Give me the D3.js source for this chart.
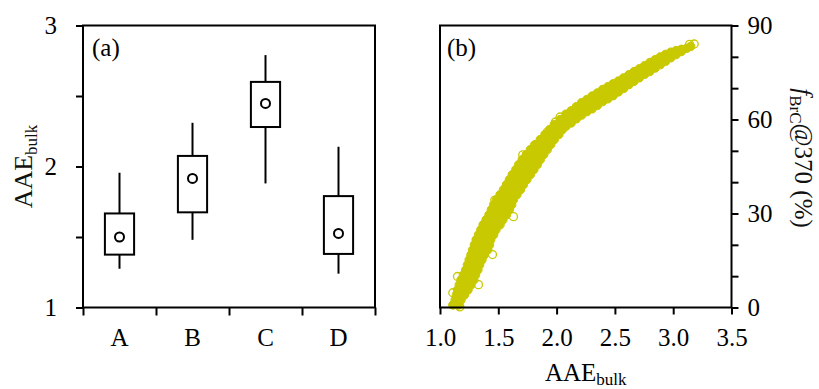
<!DOCTYPE html>
<html>
<head>
<meta charset="utf-8">
<script src="https://cdn.jsdelivr.net/npm/d3@7"></script>
<style>
  body { margin: 0; background: #fff; }
  svg { display: block; font-family: 'Liberation Serif', 'Times New Roman', serif; }
</style>
</head>
<body>
<div id="chart"></div>
<script>
// panel (a): box summary per group
const categories = ['A', 'B', 'C', 'D'];
const whiskerLow = [1.275, 1.48, 1.88, 1.24];
const boxLow = [1.375, 1.675, 2.28, 1.38];
const boxHigh = [1.667, 2.075, 2.60, 1.79];
const whiskerHigh = [1.956, 2.31, 2.79, 2.14];
const boxCenter = [1.50, 1.915, 2.447, 1.525];
const yTicksA = [1, 1.5, 2, 2.5, 3];
const yLabelsA = [1, 2, 3];

// panel (b): AAE_bulk vs f_BrC@370
// dense part, lower section: [fBrC, AAE, AAE, ...]
const steepRows = [
  [0.8, 1.11, 1.16],
  [2.4, 1.13, 1.18],
  [4.0, 1.14, 1.18, 1.21],
  [5.6, 1.15, 1.195, 1.24],
  [7.2, 1.165, 1.21, 1.265],
  [8.8, 1.18, 1.22, 1.255, 1.29],
  [10.4, 1.20, 1.235, 1.27, 1.305],
  [12.0, 1.22, 1.255, 1.29, 1.325],
  [13.6, 1.235, 1.27, 1.305, 1.34],
  [15.2, 1.25, 1.285, 1.325, 1.36],
  [16.8, 1.265, 1.305, 1.34, 1.38],
  [18.4, 1.28, 1.325, 1.37, 1.41],
  [20.0, 1.295, 1.34, 1.38, 1.425],
  [21.6, 1.31, 1.35, 1.395, 1.435],
  [23.2, 1.33, 1.375, 1.415, 1.46],
  [24.8, 1.35, 1.395, 1.44, 1.48],
  [26.4, 1.37, 1.42, 1.465, 1.515],
  [28.0, 1.395, 1.445, 1.49, 1.54],
  [29.6, 1.42, 1.47, 1.52, 1.57],
  [31.2, 1.44, 1.49, 1.545, 1.595],
  [32.8, 1.46, 1.51, 1.565, 1.615],
  [34.4, 1.485, 1.535, 1.58, 1.63],
  [36.0, 1.515, 1.565, 1.61, 1.66],
  [37.6, 1.545, 1.595, 1.64, 1.69],
  [39.2, 1.57, 1.62, 1.665, 1.715],
  [40.8, 1.595, 1.645, 1.695, 1.745],
  [42.4, 1.62, 1.67, 1.725, 1.775],
  [44.0, 1.65, 1.70, 1.755, 1.805],
  [45.6, 1.675, 1.73, 1.78, 1.835],
  [47.2, 1.705, 1.755, 1.81, 1.86],
  [48.8, 1.74, 1.79, 1.84, 1.89],
  [50.4, 1.775, 1.825, 1.87, 1.92],
  [52.0, 1.82, 1.865, 1.91, 1.95],
  [53.6, 1.86, 1.90, 1.94, 1.98],
  [55.2, 1.90, 1.94, 1.98, 2.02],
  [56.8, 1.94, 1.98, 2.015, 2.05],
  [58.4, 1.98, 2.02, 2.06],
  [60.0, 2.03, 2.07]
];
// dense part, upper section: [AAE, fBrC, fBrC, ...]
const flatCols = [
  [2.08, 57.8, 59.1, 60.4, 61.7],
  [2.125, 58.9, 60.2, 61.5, 62.8],
  [2.17, 60.2, 61.5, 62.8, 64.1],
  [2.215, 61.4, 62.7, 64.1, 65.4],
  [2.26, 62.5, 63.8, 65.1, 66.4],
  [2.305, 63.4, 64.8, 66.1, 67.5],
  [2.35, 64.5, 65.8, 67.2, 68.5],
  [2.395, 65.7, 67.0, 68.3, 69.6],
  [2.44, 66.6, 67.9, 69.2, 70.5],
  [2.485, 67.6, 68.9, 70.1, 71.4],
  [2.53, 68.8, 70.0, 71.1, 72.3],
  [2.575, 69.9, 71.0, 72.2, 73.3],
  [2.62, 71.1, 72.2, 73.2, 74.3],
  [2.665, 72.2, 73.2, 74.3, 75.3],
  [2.71, 73.3, 74.8, 76.2],
  [2.755, 74.4, 75.8, 77.2],
  [2.80, 75.3, 76.75, 78.2],
  [2.845, 76.4, 77.75, 79.1],
  [2.89, 77.5, 78.75, 80.0],
  [2.935, 78.6, 79.7, 80.8],
  [2.98, 79.7, 80.6, 81.5],
  [3.025, 80.7, 82.0],
  [3.07, 81.7, 82.4],
  [3.115, 82.7],
  [3.15, 83.3]
];
// scattered points at the edges of the cloud: [AAE, fBrC]
const edgePoints = [
  [1.71, 48.7], [1.81, 51.8], [2.03, 60.8], [1.99, 59.2], [1.92, 56.0],
  [1.63, 29.0], [1.47, 34.3], [1.45, 16.9], [1.33, 7.3], [1.15, 9.9],
  [1.11, 4.7], [1.17, 0.2], [3.14, 84.0], [3.18, 84.1]
];
const xTicksB = [1.0, 1.5, 2.0, 2.5, 3.0, 3.5];
const yTicksB = [0, 10, 20, 30, 40, 50, 60, 70, 80, 90];
const yLabelsB = [0, 30, 60, 90];

const width = 819, height = 389;
const plotTop = 25.5, plotBottom = 307.5;
const panelA = {left: 83, right: 375};
const panelB = {left: 440, right: 731.5};
const cloudColor = '#c9c900';
const fontSize = 24;

const svg = d3.select('#chart').append('svg')
  .attr('width', width)
  .attr('height', height);

// ---------- panel (a) ----------
const xBand = d3.scaleBand().domain(categories).range([panelA.left, panelA.right]);
const xEdge = d3.scaleLinear().domain([0, categories.length]).range([panelA.left, panelA.right]);
const yA = d3.scaleLinear().domain([1, 3]).range([plotBottom, plotTop]);

const gA = svg.append('g');

gA.append('g')
  .attr('transform', `translate(${panelA.left},0)`)
  .call(d3.axisLeft(yA).tickValues(yTicksA).tickSize(7).tickSizeOuter(0).tickPadding(19)
    .tickFormat((d) => yLabelsA.includes(d) ? d : ''));

gA.append('g')
  .attr('transform', `translate(0,${plotBottom})`)
  .call(d3.axisBottom(xEdge).tickValues(d3.range(categories.length + 1)).tickSize(8).tickSizeOuter(0)
    .tickFormat(''));

gA.append('g')
  .attr('transform', `translate(0,${plotBottom})`)
  .call(d3.axisBottom(xBand).tickSize(0).tickPadding(21));

const boxW = xBand.bandwidth() * 0.4;
const groups = gA.selectAll('.grp')
  .data(categories)
  .join('g')
    .attr('class', 'grp');

groups.append('line')
  .attr('x1', (d) => xBand(d) + xBand.bandwidth() / 2)
  .attr('x2', (d) => xBand(d) + xBand.bandwidth() / 2)
  .attr('y1', (d, i) => yA(whiskerHigh[i]))
  .attr('y2', (d, i) => yA(boxHigh[i]))
  .attr('stroke', '#000').attr('stroke-width', 2);

groups.append('line')
  .attr('x1', (d) => xBand(d) + xBand.bandwidth() / 2)
  .attr('x2', (d) => xBand(d) + xBand.bandwidth() / 2)
  .attr('y1', (d, i) => yA(boxLow[i]))
  .attr('y2', (d, i) => yA(whiskerLow[i]))
  .attr('stroke', '#000').attr('stroke-width', 2);

groups.append('rect')
  .attr('x', (d) => xBand(d) + (xBand.bandwidth() - boxW) / 2)
  .attr('width', boxW)
  .attr('y', (d, i) => yA(boxHigh[i]))
  .attr('height', (d, i) => yA(boxLow[i]) - yA(boxHigh[i]))
  .attr('fill', 'none').attr('stroke', '#000').attr('stroke-width', 2);

groups.append('circle')
  .attr('cx', (d) => xBand(d) + xBand.bandwidth() / 2)
  .attr('cy', (d, i) => yA(boxCenter[i]))
  .attr('r', 4.5)
  .attr('fill', 'none').attr('stroke', '#000').attr('stroke-width', 2);

gA.append('rect')
  .attr('x', panelA.left).attr('y', plotTop)
  .attr('width', panelA.right - panelA.left).attr('height', plotBottom - plotTop)
  .attr('fill', 'none').attr('stroke', '#000').attr('stroke-width', 2);

gA.append('text')
  .attr('x', panelA.left + 9).attr('y', 56)
  .attr('font-size', 25)
  .text('(a)');

const titleA = gA.append('text')
  .attr('transform', `translate(32,${(plotTop + plotBottom) / 2}) rotate(-90)`)
  .attr('text-anchor', 'middle')
  .attr('font-size', 26)
  .attr('fill', '#111');
titleA.append('tspan').text('AAE');
titleA.append('tspan').attr('font-size', 17).attr('dy', 5).text('bulk');

// ---------- panel (b) ----------
const xB = d3.scaleLinear().domain([1, 3.5]).range([panelB.left, panelB.right]);
const yB = d3.scaleLinear().domain([0, 90]).range([plotBottom, plotTop]);

const gB = svg.append('g');

gB.append('g')
  .attr('transform', `translate(0,${plotBottom})`)
  .call(d3.axisBottom(xB).tickValues(xTicksB).tickSize(7).tickSizeOuter(0).tickPadding(14)
    .tickFormat(d3.format('.1f')));

gB.append('g')
  .attr('transform', `translate(${panelB.right},0)`)
  .call(d3.axisRight(yB).tickValues(yTicksB).tickSize(7).tickSizeOuter(0).tickPadding(9)
    .tickFormat((d) => yLabelsB.includes(d) ? d : ''));

// the dense mass of overlapping markers reads as solid
const cloud = [];
steepRows.forEach((row) => row.slice(1).forEach((a) => cloud.push([a, row[0]])));
flatCols.forEach((col) => col.slice(1).forEach((f) => cloud.push([col[0], f])));

gB.append('g')
  .selectAll('circle')
  .data(cloud)
  .join('circle')
    .attr('cx', (d) => xB(d[0]))
    .attr('cy', (d) => yB(d[1]))
    .attr('r', 4.2)
    .attr('fill', cloudColor)
    .attr('stroke', cloudColor)
    .attr('stroke-width', 1);

gB.append('g')
  .selectAll('circle')
  .data(edgePoints)
  .join('circle')
    .attr('cx', (d) => xB(d[0]))
    .attr('cy', (d) => yB(d[1]))
    .attr('r', 4)
    .attr('fill', 'none')
    .attr('stroke', cloudColor)
    .attr('stroke-width', 1.3);

gB.append('rect')
  .attr('x', panelB.left).attr('y', plotTop)
  .attr('width', panelB.right - panelB.left).attr('height', plotBottom - plotTop)
  .attr('fill', 'none').attr('stroke', '#000').attr('stroke-width', 2);

gB.append('text')
  .attr('x', panelB.left + 7).attr('y', 56)
  .attr('font-size', 25)
  .text('(b)');

const titleX = gB.append('text')
  .attr('x', (panelB.left + panelB.right) / 2).attr('y', 381)
  .attr('text-anchor', 'middle')
  .attr('font-size', 25);
titleX.append('tspan').text('AAE');
titleX.append('tspan').attr('font-size', 17).attr('dy', 4).text('bulk');

const titleY = gB.append('text')
  .attr('transform', `translate(795,158) rotate(90)`)
  .attr('text-anchor', 'middle')
  .attr('font-size', 25)
  .attr('fill', '#111');
titleY.append('tspan').attr('font-style', 'italic').text('f');
titleY.append('tspan').attr('font-size', 17).attr('dy', 5).text('BrC');
titleY.append('tspan').attr('dy', -5).text('@370 (%)');

// shared axis look
svg.selectAll('.domain').remove();
svg.selectAll('.tick line').attr('stroke', '#000').attr('stroke-width', 2);
svg.selectAll('.tick text').attr('font-size', 25).attr('fill', '#000')
  .attr('font-family', "'Liberation Serif', 'Times New Roman', serif");
</script>
</body>
</html>
